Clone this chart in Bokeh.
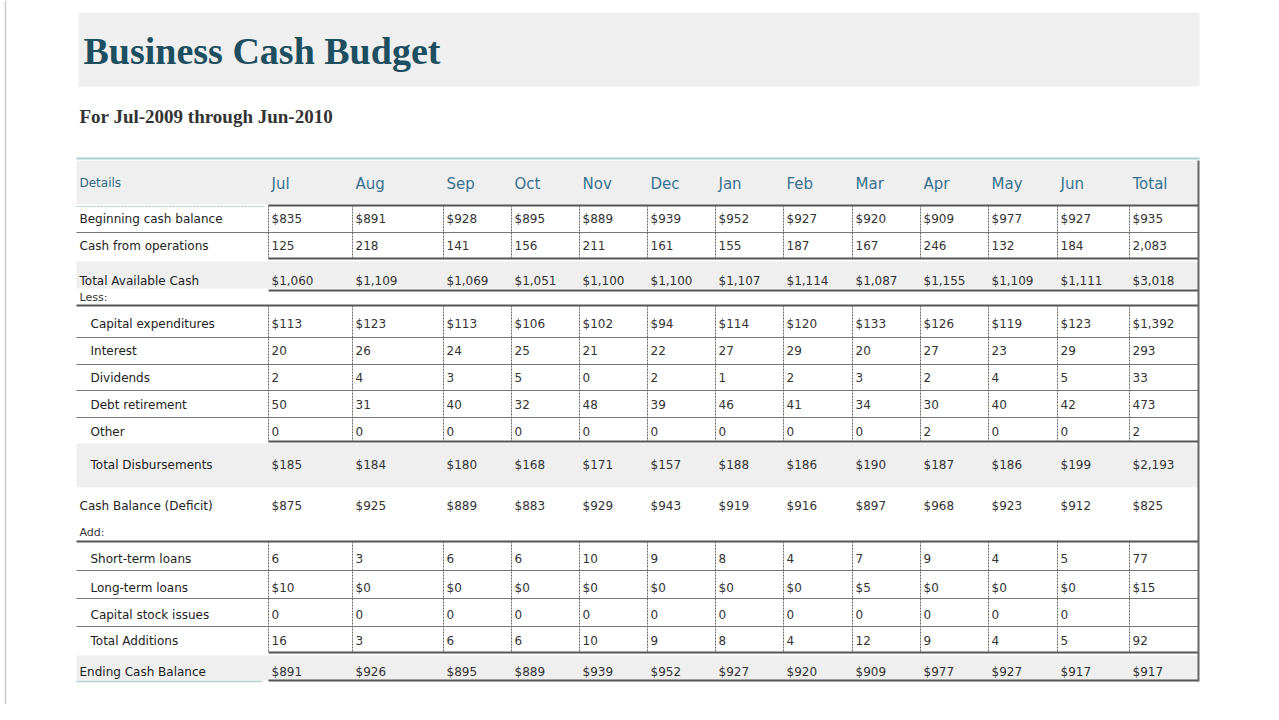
from bokeh.plotting import figure
from bokeh.models import ColumnDataSource, Range1d
from bokeh.core.properties import value
from bokeh.embed import file_html
from bokeh.resources import INLINE

# ---------------- data ----------------
title = "Business Cash Budget"
subtitle = "For Jul-2009 through Jun-2010"
details_header = "Details"
months = ["Jul", "Aug", "Sep", "Oct", "Nov", "Dec", "Jan", "Feb", "Mar", "Apr", "May", "Jun"]
total_header = "Total"

beginning_cash = [835, 891, 928, 895, 889, 939, 952, 927, 920, 909, 977, 927]
beginning_cash_total = 935
cash_from_operations = [125, 218, 141, 156, 211, 161, 155, 187, 167, 246, 132, 184]
cash_from_operations_total = 2083
total_available_cash = [1060, 1109, 1069, 1051, 1100, 1100, 1107, 1114, 1087, 1155, 1109, 1111]
total_available_cash_total = 3018

capital_expenditures = [113, 123, 113, 106, 102, 94, 114, 120, 133, 126, 119, 123]
capital_expenditures_total = 1392
interest = [20, 26, 24, 25, 21, 22, 27, 29, 20, 27, 23, 29]
interest_total = 293
dividends = [2, 4, 3, 5, 0, 2, 1, 2, 3, 2, 4, 5]
dividends_total = 33
debt_retirement = [50, 31, 40, 32, 48, 39, 46, 41, 34, 30, 40, 42]
debt_retirement_total = 473
other = [0, 0, 0, 0, 0, 0, 0, 0, 0, 2, 0, 0]
other_total = 2
total_disbursements = [185, 184, 180, 168, 171, 157, 188, 186, 190, 187, 186, 199]
total_disbursements_total = 2193

cash_balance = [875, 925, 889, 883, 929, 943, 919, 916, 897, 968, 923, 912]
cash_balance_total = 825

short_term_loans = [6, 3, 6, 6, 10, 9, 8, 4, 7, 9, 4, 5]
short_term_loans_total = 77
long_term_loans = [10, 0, 0, 0, 0, 0, 0, 0, 5, 0, 0, 0]
long_term_loans_total = 15
capital_stock_issues = [0, 0, 0, 0, 0, 0, 0, 0, 0, 0, 0, 0]
capital_stock_issues_total = None
total_additions = [16, 3, 6, 6, 10, 9, 8, 4, 12, 9, 4, 5]
total_additions_total = 92
ending_cash = [891, 926, 895, 889, 939, 952, 927, 920, 909, 977, 927, 917]
ending_cash_total = 917

# ---------------- layout / style ----------------
W, H = 1263, 704
col_edges = [268, 352, 443, 511, 579, 647, 715, 783, 852, 920, 988, 1057, 1129]
right_edge = 1198
table_left = 76
label_x_main = 79
label_x_indent = 90

# (label, values, total, dollar, indent, y)
rows = [
    ("Beginning cash balance", beginning_cash, beginning_cash_total, True, False, 218),
    ("Cash from operations", cash_from_operations, cash_from_operations_total, False, False, 245),
    ("Total Available Cash", total_available_cash, total_available_cash_total, True, False, 280),
    ("Capital expenditures", capital_expenditures, capital_expenditures_total, True, True, 323),
    ("Interest", interest, interest_total, False, True, 350),
    ("Dividends", dividends, dividends_total, False, True, 377),
    ("Debt retirement", debt_retirement, debt_retirement_total, False, True, 404),
    ("Other", other, other_total, False, True, 431),
    ("Total Disbursements", total_disbursements, total_disbursements_total, True, True, 464),
    ("Cash Balance (Deficit)", cash_balance, cash_balance_total, True, False, 505),
    ("Short-term loans", short_term_loans, short_term_loans_total, False, True, 558),
    ("Long-term loans", long_term_loans, long_term_loans_total, True, True, 587),
    ("Capital stock issues", capital_stock_issues, capital_stock_issues_total, False, True, 614),
    ("Total Additions", total_additions, total_additions_total, False, True, 640),
    ("Ending Cash Balance", ending_cash, ending_cash_total, True, False, 671),
]


def fmt(v, dollar):
    if v is None:
        return ""
    return ("$" if dollar else "") + f"{v:,}"


p = figure(width=W, height=H, x_range=Range1d(0, W), y_range=Range1d(H, 0),
           output_backend="svg", toolbar_location=None, min_border=0,
           x_axis_type=None, y_axis_type=None)
p.grid.visible = False
p.outline_line_color = None
p.background_fill_color = "white"

SANS = value("DejaVu Sans")
SERIF = value("Liberation Serif")

# page edge
p.segment(x0=[5], y0=[0], x1=[5], y1=[H], line_color="#cccccc", line_width=1.5)

# background bands
bands = dict(left=[78, table_left, table_left, table_left, table_left],
             right=[1199, right_edge, right_edge, right_edge, right_edge],
             top=[12, 160, 261, 443, 655],
             bottom=[86, 204, 288, 487, 680])
p.quad(source=ColumnDataSource(bands), left="left", right="right", top="top", bottom="bottom",
       fill_color="#efefef", line_color=None)

# title & subtitle
p.text(x=[83], y=[50], text=[title], text_font=SERIF, text_font_style="bold",
       text_font_size="38px", text_color="#1e4f60", text_baseline="middle")
p.text(x=[79], y=[116], text=[subtitle], text_font=SERIF, text_font_style="bold",
       text_font_size="19px", text_color="#333333", text_baseline="middle")

# header
p.segment(x0=[table_left], y0=[158], x1=[right_edge + 1], y1=[158], line_color="#a8cfd0", line_width=2)
p.text(x=[label_x_main], y=[182], text=[details_header], text_font=SANS, text_font_size="12px",
       text_color="#2f6b85", text_baseline="middle")
hdr = ColumnDataSource(dict(x=[e + 3 for e in col_edges], y=[183] * 13, t=months + [total_header]))
p.text(x="x", y="y", text="t", source=hdr, text_font=SANS, text_font_size="15px",
       text_color="#3a7291", text_baseline="middle")
p.segment(x0=[table_left], y0=[206], x1=[265], y1=[206], line_color="#9fbfc4", line_width=1, line_dash="2 1")

# horizontal rules
heavy_y = [205, 258, 290, 441, 652, 680]
p.segment(x0=[col_edges[0]] * len(heavy_y), y0=heavy_y, x1=[right_edge] * len(heavy_y), y1=heavy_y,
          line_color="#555555", line_width=2)
full_heavy = [305, 541]
p.segment(x0=[table_left] * 2, y0=full_heavy, x1=[right_edge] * 2, y1=full_heavy,
          line_color="#555555", line_width=2)
thin_y = [232, 337, 364, 390, 417, 570, 598, 626]
p.segment(x0=[table_left] * len(thin_y), y0=thin_y, x1=[right_edge] * len(thin_y), y1=thin_y,
          line_color="#777777", line_width=1.2)
p.segment(x0=[table_left], y0=[681], x1=[262], y1=[681], line_color="#b5d3d6", line_width=1.5)

# vertical rules in bordered blocks
blocks = [(205, 258), (305, 441), (541, 652)]
vx0, vy0, vy1 = [], [], []
for (a, b) in blocks:
    for e in col_edges:
        vx0.append(e); vy0.append(a); vy1.append(b)
p.segment(x0=vx0, y0=vy0, x1=vx0, y1=vy1, line_color="#666666", line_width=1, line_dash="2 1")
p.segment(x0=[right_edge], y0=[160], x1=[right_edge], y1=[681], line_color="#666666", line_width=2)

# row labels and values
lx, ly, lt = [], [], []
vx, vy, vt = [], [], []
for (label, vals, tot, dollar, indent, y) in rows:
    lx.append(label_x_indent if indent else label_x_main); ly.append(y); lt.append(label)
    for e, v in zip(col_edges, vals + [tot]):
        vx.append(e + 3); vy.append(y); vt.append(fmt(v, dollar))
p.text(x="x", y="y", text="t", source=ColumnDataSource(dict(x=lx, y=ly, t=lt)),
       text_font=SANS, text_font_size="12px", text_color="#222222", text_baseline="middle")
p.text(x="x", y="y", text="t", source=ColumnDataSource(dict(x=vx, y=vy, t=vt)),
       text_font=SANS, text_font_size="12px", text_color="#333333", text_baseline="middle")

# section captions
p.text(x=[label_x_main, label_x_main], y=[297, 532], text=["Less:", "Add:"], text_font=SANS,
       text_font_size="11px", text_color="#333333", text_baseline="middle")

open("out.html", "w").write(file_html(p, INLINE))
